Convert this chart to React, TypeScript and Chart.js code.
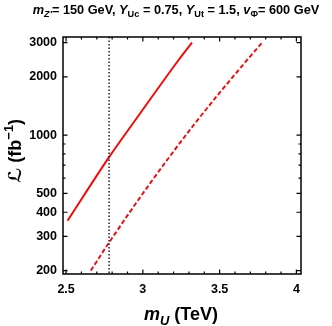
import React, { useEffect, useRef } from "react";
import { Chart, registerables } from "chart.js";

Chart.register(...registerables);

// ---- data ----
const xSolid = [2.51, 2.78, 2.983, 3.233, 3.32];
const ySolid = [362, 770, 1297, 2443, 3000];
const xDashed = [2.661, 2.78, 3.048, 3.33, 3.679, 3.777];
const yDashed = [200, 279, 565, 1125, 2443, 3000];
const xRefLine = 2.78;

const xMajorTicks = [2.5, 3, 3.5, 4];
const xTickLabels = ["2.5", "3", "3.5", "4"];
const xMinorTicks = [2.6, 2.7, 2.8, 2.9, 3.1, 3.2, 3.3, 3.4, 3.6, 3.7, 3.8, 3.9];
const yMajorTicks = [200, 300, 400, 500, 1000, 2000, 3000];
const yTickLabels = ["200", "300", "400", "500", "1000", "2000", "3000"];
const yMinorTicks = [600, 700, 800, 900];

const X_MIN = 2.48;
const X_MAX = 4.03;
const Y_MIN = 192;
const Y_MAX = 3210;

const FONT = "'Liberation Sans', Arial, 'DejaVu Sans', sans-serif";

type Part = { t: string; italic?: boolean; sub?: boolean; sup?: boolean };

function partFont(p: Part, fs: number, weight: string) {
  const size = p.sub || p.sup ? fs * 0.72 : fs;
  return `${p.italic ? "italic " : ""}${weight} ${size}px ${FONT}`;
}

function richWidth(ctx: CanvasRenderingContext2D, parts: Part[], fs: number, weight: string) {
  let w = 0;
  for (const p of parts) {
    ctx.font = partFont(p, fs, weight);
    w += ctx.measureText(p.t).width;
  }
  return w;
}

function drawRich(
  ctx: CanvasRenderingContext2D,
  parts: Part[],
  cx: number,
  baseline: number,
  fs: number,
  weight: string
) {
  const w = richWidth(ctx, parts, fs, weight);
  let x = cx - w / 2;
  ctx.textAlign = "left";
  ctx.textBaseline = "alphabetic";
  for (const p of parts) {
    ctx.font = partFont(p, fs, weight);
    const dy = p.sub ? fs * 0.25 : p.sup ? -fs * 0.42 : 0;
    ctx.fillText(p.t, x, baseline + dy);
    x += ctx.measureText(p.t).width;
  }
}

const titleParts: Part[] = [
  { t: "m", italic: true },
  { t: "Z'", italic: true, sub: true },
  { t: "= 150 GeV, " },
  { t: "Y", italic: true },
  { t: "Uc", sub: true },
  { t: " = 0.75, " },
  { t: "Y", italic: true },
  { t: "Ut", sub: true },
  { t: " = 1.5, " },
  { t: "v", italic: true },
  { t: "Φ", sub: true },
  { t: "= 600 GeV" },
];

const xTitleParts: Part[] = [
  { t: "m", italic: true },
  { t: "U", italic: true, sub: true },
  { t: " (TeV)" },
];

const yTitleParts: Part[] = [{ t: "ℒ (fb" }, { t: "−1", sup: true }, { t: ")" }];

const framePlugin = {
  id: "framePlugin",
  afterDraw(chart: any) {
    const ctx: CanvasRenderingContext2D = chart.ctx;
    const { left, right, top, bottom } = chart.chartArea;
    const xs = chart.scales.x;
    const ys = chart.scales.y;
    ctx.save();
    ctx.strokeStyle = "#000";
    ctx.lineWidth = 1.5;
    ctx.strokeRect(left, top, right - left, bottom - top);

    const major = 4.5;
    const minor = 2.5;
    ctx.lineWidth = 1.2;
    ctx.beginPath();
    const xTick = (v: number, len: number) => {
      const px = xs.getPixelForValue(v);
      ctx.moveTo(px, bottom);
      ctx.lineTo(px, bottom - len);
      ctx.moveTo(px, top);
      ctx.lineTo(px, top + len);
    };
    const yTick = (v: number, len: number) => {
      const py = ys.getPixelForValue(v);
      ctx.moveTo(left, py);
      ctx.lineTo(left + len, py);
      ctx.moveTo(right, py);
      ctx.lineTo(right - len, py);
    };
    xMajorTicks.forEach((v) => xTick(v, major));
    xMinorTicks.forEach((v) => xTick(v, minor));
    yMajorTicks.forEach((v) => yTick(v, major));
    yMinorTicks.forEach((v) => yTick(v, minor));
    ctx.stroke();

    ctx.fillStyle = "#000";
    // title
    let fs = 14;
    while (fs > 8 && richWidth(ctx, titleParts, fs, "bold") > 288) fs -= 0.25;
    drawRich(ctx, titleParts, 176, 13.5, fs, "bold");

    // x title
    drawRich(ctx, xTitleParts, 181, 320, 18, "bold");

    // y title
    ctx.save();
    ctx.translate(20.5, 151);
    ctx.rotate(-Math.PI / 2);
    drawRich(ctx, yTitleParts, 0, 0, 18, "bold");
    ctx.restore();

    ctx.restore();
  },
};

export default function App() {
  const ref = useRef<HTMLCanvasElement | null>(null);

  useEffect(() => {
    document.body.style.margin = "0";
    const canvas = ref.current;
    if (!canvas) return;
    const chart = new Chart(canvas, {
      type: "scatter",
      data: {
        datasets: [
          {
            label: "ref",
            data: [
              { x: xRefLine, y: 100 },
              { x: xRefLine, y: 10000 },
            ],
            showLine: true,
            borderColor: "#000",
            borderWidth: 1.3,
            borderDash: [1.5, 2],
            pointRadius: 0,
          },
          {
            label: "solid",
            data: xSolid.map((x, i) => ({ x, y: ySolid[i] })),
            showLine: true,
            borderColor: "#ff0000",
            borderWidth: 1.9,
            pointRadius: 0,
            cubicInterpolationMode: "monotone",
          },
          {
            label: "dashed",
            data: xDashed.map((x, i) => ({ x, y: yDashed[i] })),
            showLine: true,
            borderColor: "#ff0000",
            borderWidth: 1.9,
            borderDash: [4.5, 2.5],
            pointRadius: 0,
            cubicInterpolationMode: "monotone",
          },
        ],
      },
      options: {
        animation: false,
        responsive: false,
        devicePixelRatio: 1,
        layout: { padding: { top: 37, right: 31, left: 0, bottom: 0 } },
        plugins: { legend: { display: false }, tooltip: { enabled: false }, title: { display: false } },
        scales: {
          x: {
            type: "linear",
            min: X_MIN,
            max: X_MAX,
            grid: { display: false, drawTicks: false },
            border: { display: false },
            afterBuildTicks: (scale: any) => {
              scale.ticks = xMajorTicks.map((v) => ({ value: v }));
            },
            afterFit: (scale: any) => {
              scale.height = 52;
            },
            ticks: {
              padding: 8,
              color: "#000",
              font: { family: FONT, size: 12.5, weight: "bold" },
              maxRotation: 0,
              autoSkip: false,
              callback: (v: any) => {
                const i = xMajorTicks.indexOf(Number(v));
                return i >= 0 ? xTickLabels[i] : "";
              },
            },
          },
          y: {
            type: "logarithmic",
            min: Y_MIN,
            max: Y_MAX,
            grid: { display: false, drawTicks: false },
            border: { display: false },
            afterBuildTicks: (scale: any) => {
              scale.ticks = yMajorTicks.map((v) => ({ value: v }));
            },
            afterFit: (scale: any) => {
              scale.width = 63;
            },
            ticks: {
              padding: 6,
              color: "#000",
              font: { family: FONT, size: 12.5, weight: "bold" },
              autoSkip: false,
              callback: (v: any) => {
                const i = yMajorTicks.indexOf(Number(v));
                return i >= 0 ? yTickLabels[i] : "";
              },
            },
          },
        },
      },
      plugins: [framePlugin],
    } as any);
    return () => chart.destroy();
  }, []);

  return (
    <div style={{ width: 332, height: 326 }}>
      <canvas ref={ref} width={332} height={326} style={{ display: "block" }} />
    </div>
  );
}
